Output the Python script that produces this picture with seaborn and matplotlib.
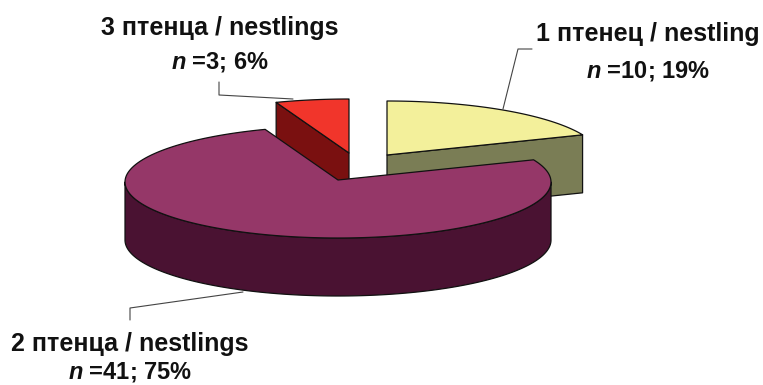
import numpy as np
import matplotlib
matplotlib.use("Agg")
import matplotlib.pyplot as plt
import seaborn as sns

# Brood sizes, in the order they run clockwise from twelve o'clock
brood_labels = ["1 птенец / nestling", "2 птенца / nestlings", "3 птенца / nestlings"]
brood_counts = [10, 41, 3]
brood_percents = [19, 75, 6]
top_colors = ["#f3f09b", "#953768", "#f1352b"]
side_colors = ["#7a7d55", "#4a1232", "#7a1010"]

sns.set_theme(style="white")
plt.rcParams["font.family"] = ["Liberation Sans", "DejaVu Sans"]
plt.rcParams["mathtext.fontset"] = "custom"
plt.rcParams["mathtext.bfit"] = "Liberation Sans:italic:bold"

fig, ax = plt.subplots(figsize=(7.63, 3.85), dpi=100)
ax.set_position([0, 0, 1, 1])
ax.set_xlim(0, 763)
ax.set_ylim(385, 0)
ax.axis("off")

# Pie projection, in figure pixels
RX, RY, DEPTH = 213, 56, 58
APEX_LIFT = 2
centers = [(387, 157), (338, 182), (349, 155)]
EDGE = dict(edgecolor="#111111", linewidth=0.9, joinstyle="round")


def rim(cx, cy, a0, a1, n=160):
    """Points on the elliptical rim; angles are clockwise from the top."""
    t = np.radians(np.linspace(a0, a1, n))
    return cx + RX * np.sin(t), cy - RY * np.cos(t)


def draw_slice(center, a0, a1, top, side, zorder):
    cx, cy = center
    apex_y = cy - APEX_LIFT

    # Cut faces running back from the apex, seen only if they face the viewer
    for a in (a0, a1):
        sa = np.radians(a)
        ex, ey = cx + RX * np.sin(sa), cy - RY * np.cos(sa)
        visible = (a == a1 and 0 < a < 180) or (a == a0 and 180 < a < 360)
        if visible:
            ax.fill([cx, ex, ex, cx], [apex_y, ey, ey + DEPTH, apex_y + DEPTH],
                    facecolor=side, zorder=zorder, **EDGE)

    # Outer wall along the front half of the rim
    lo, hi = max(a0, 90), min(a1, 270)
    if hi > lo:
        x, y = rim(cx, cy, lo, hi)
        ax.fill(np.r_[x, x[::-1]], np.r_[y, y[::-1] + DEPTH],
                facecolor=side, zorder=zorder, **EDGE)

    # Top face
    x, y = rim(cx, cy, a0, a1)
    ax.fill(np.r_[cx, x], np.r_[apex_y, y], facecolor=top, zorder=zorder + 1, **EDGE)


# Sweep angles come straight from the counts
sweeps = np.cumsum([0] + brood_counts) / sum(brood_counts) * 360
draw_order = [2, 0, 1]  # back slices first, the big front slice last
for rank, i in enumerate(draw_order):
    draw_slice(centers[i], sweeps[i], sweeps[i + 1], top_colors[i], side_colors[i],
               zorder=2 + rank * 2)

# Leader lines
leaders = [
    ([503, 518, 532], [109, 49, 49]),
    ([243, 130, 130], [292, 308, 320]),
    ([219, 219, 293], [82, 95, 99]),
]
for xs, ys in leaders:
    ax.plot(xs, ys, color="#444444", lw=0.8, zorder=1)

# Two-line labels
label_pos = [(648, 34, 71), (130, 344, 372), (220, 28, 62)]
for (x, y1, y2), name, count, pct in zip(label_pos, brood_labels, brood_counts, brood_percents):
    style = dict(ha="center", va="center", fontweight="bold", color="#111111")
    ax.text(x, y1, name, fontsize=18, **style)
    ax.text(x, y2, rf"$\mathbfit{{n}}$ ={count}; {pct}%", fontsize=17, **style)

fig.savefig("out.png", dpi=100, facecolor="white")
